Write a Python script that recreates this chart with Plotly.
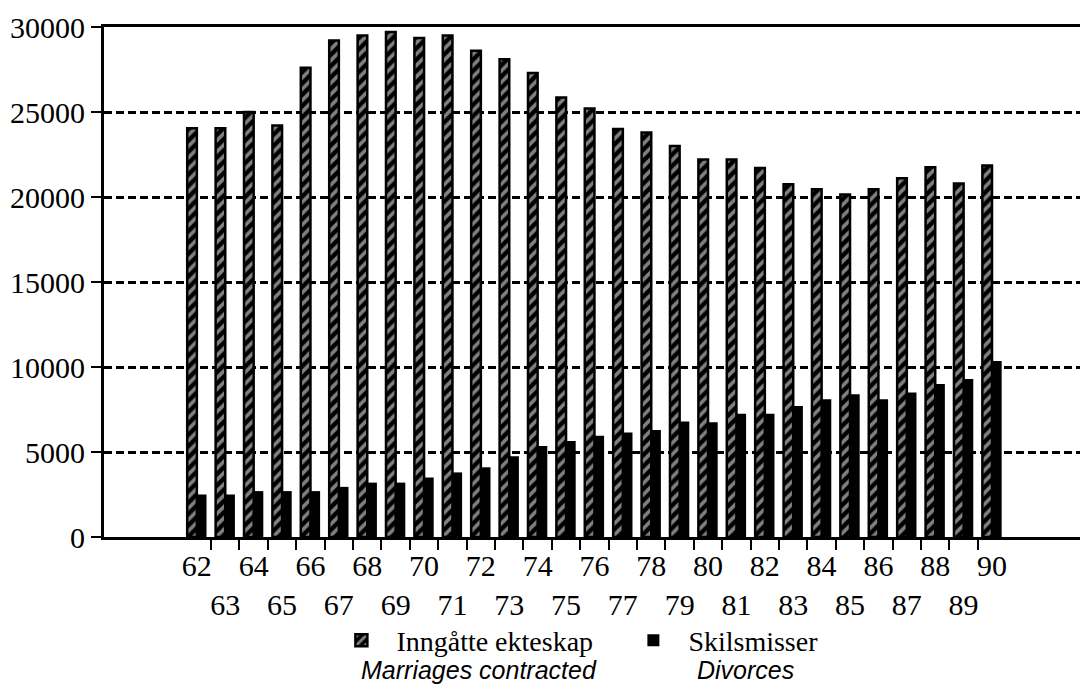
import plotly.graph_objects as go

# Inngåtte ekteskap og skilsmisser, 1962-1990
years = list(range(62, 91))
marriages = [24050, 24050, 25000, 24200, 27600, 29200, 29500, 29700, 29350, 29500,
             28600, 28100, 27300, 25850, 25200, 24000, 23800, 23000, 22200, 22200,
             21700, 20750, 20450, 20150, 20450, 21100, 21750, 20800, 21850]
divorces = [2500, 2500, 2700, 2700, 2700, 2950, 3200, 3200, 3500, 3800,
            4100, 4750, 5350, 5650, 5950, 6150, 6300, 6800, 6750, 7250,
            7250, 7700, 8100, 8400, 8100, 8500, 9000, 9300, 10350]
year_labels = [str(y) if y % 2 == 0 else "<br>" + str(y) for y in years]
y_ticks = [0, 5000, 10000, 15000, 20000, 25000, 30000]
y_labels = [str(v) for v in y_ticks]

SERIF = "Liberation Serif"
SANS = "Liberation Sans"

fig = go.Figure()
fig.add_trace(go.Bar(
    x=years, y=marriages, name="Inngåtte ekteskap",
    marker=dict(color="black", line=dict(color="black", width=2.5),
                pattern=dict(shape="/", fgcolor="white", bgcolor="black",
                             size=8, solidity=0.45)),
))
fig.add_trace(go.Bar(
    x=years, y=divorces, name="Skilsmisser",
    marker=dict(color="black", line=dict(color="black", width=0)),
))

# the page has an 8px body margin, so the figure is 8px smaller than the window
fig.update_layout(
    width=1080, height=680, autosize=False,
    margin=dict(l=96, r=0, t=19, b=151),
    paper_bgcolor="white", plot_bgcolor="white",
    barmode="group", bargap=0.32, bargroupgap=0,
    font=dict(family=SERIF, size=30, color="black"),
    showlegend=True,
    legend=dict(orientation="h", x=0.226, xanchor="left", y=-0.203, yanchor="middle",
                font=dict(family=SERIF, size=28), itemwidth=60,
                entrywidth=217, entrywidthmode="pixels",
                bgcolor="rgba(0,0,0,0)", traceorder="normal"),
    xaxis=dict(
        range=[58.73, 93.38], showgrid=False, zeroline=False,
        showline=True, linecolor="black", linewidth=3, mirror=True,
        tickmode="array", tickvals=years, ticktext=year_labels, tickangle=0,
        ticks="", tickfont=dict(family=SERIF, size=30),
        minor=dict(tickmode="array", tickvals=[y + 0.5 for y in years[:-1]],
                   ticks="outside", ticklen=10, tickwidth=2, tickcolor="black",
                   showgrid=False),
    ),
    yaxis=dict(
        range=[0, 30000], tickmode="array", tickvals=y_ticks, ticktext=y_labels,
        ticks="outside", ticklen=10, tickwidth=2, tickcolor="black",
        showline=True, linecolor="black", linewidth=3, zeroline=False,
        showgrid=True, gridcolor="black", gridwidth=2.5, griddash="8px,4px",
        tickfont=dict(family=SERIF, size=30),
    ),
)

fig.add_annotation(text="<i>Marriages contracted</i>", xref="paper", yref="paper",
                   x=0.381, y=-0.261, xanchor="center", yanchor="middle",
                   showarrow=False, font=dict(family=SANS, size=25))
fig.add_annotation(text="<i>Divorces</i>", xref="paper", yref="paper",
                   x=0.652, y=-0.261, xanchor="center", yanchor="middle",
                   showarrow=False, font=dict(family=SANS, size=25))

fig.write_html("out.html")
